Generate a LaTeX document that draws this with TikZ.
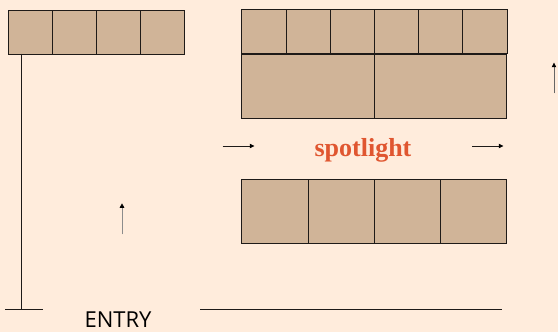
\documentclass[tikz,border=0pt]{standalone}
\usepackage{fontspec}
\setmainfont{Liberation Serif}
\setsansfont{Open Sans}
\usetikzlibrary{arrows.meta}
\definecolor{paper}{RGB}{255,236,220}
\definecolor{tan}{RGB}{208,180,152}
\definecolor{edge}{RGB}{30,26,24}
\definecolor{spot}{RGB}{224,86,48}

\begin{document}
\begin{tikzpicture}[x=1pt,y=-1pt,
  cell/.style={draw=edge,fill=tan,line width=.8pt,inner sep=0pt,anchor=north west,minimum width=#1,minimum height=44pt},
  wall/.style={draw=edge,line width=.8pt},
  tip/.style={-{Triangle[length=4.5pt,width=4.5pt,color=black]},line width=.7pt}]
  \fill[paper] (0,0) rectangle (558,332);
  \useasboundingbox (0,0) rectangle (558,332);
  % top left row
  \path (8,9.5) node[cell=44pt] (a0) {} (52,9.5) node[cell=44pt] (a1) {}
  (96,9.5) node[cell=44pt] (a2) {} (140,9.5) node[cell=44pt] (a3) {};
  % top right block
  \path (241.3,9.3) node[cell=44.2pt] (b0) {} (285.5,9.3) node[cell=44.2pt] (b1) {}
  (329.7,9.3) node[cell=44.2pt] (b2) {} (373.9,9.3) node[cell=44.2pt] (b3) {}
  (418.1,9.3) node[cell=44.2pt] (b4) {} (462.3,9.3) node[cell=44.2pt] (b5) {};
  \path (241.3,53.7) node[cell=132.5pt,minimum height=64.3pt] (c0) {}
  (373.8,53.7) node[cell=132.5pt,minimum height=64.3pt] (c1) {};
  % bottom right row
  \path (241.3,179) node[cell=66.25pt,minimum height=64pt] (d0) {}
  (307.55,179) node[cell=66.25pt,minimum height=64pt] (d1) {}
  (373.8,179) node[cell=66.25pt,minimum height=64pt] (d2) {}
  (440.05,179) node[cell=66.25pt,minimum height=64pt] (d3) {};
  % walls
  \coordinate (w0) at (21.4,53.7);
  \coordinate (w1) at (21.4,309);
  \draw[wall] (w0) -- (w1);
  \draw[wall] (5.3,309) -- (43,309);
  \draw[wall] (200.4,309) -- (501.8,309);
  % labels
  \node[anchor=base,inner sep=0pt,font=\sffamily\fontsize{22}{22}\selectfont,text=black] (entry) at (118,327.3) {ENTRY};
  \node[anchor=base,inner sep=0pt,font=\bfseries\fontsize{26}{26}\selectfont,text=spot] (spot) at (363,156.5) {spotlight};
  % arrows
  \draw[tip,draw=edge] (222.7,146) -- (254.3,146);
  \draw[tip,draw=edge] (472.3,146) -- (503.3,146);
  \draw[tip,draw=black!45] (122,234.3) -- (122,203.3);
  \draw[tip,draw=black!60] (554,93.3) -- (554,62.7);
\end{tikzpicture}
\end{document}
